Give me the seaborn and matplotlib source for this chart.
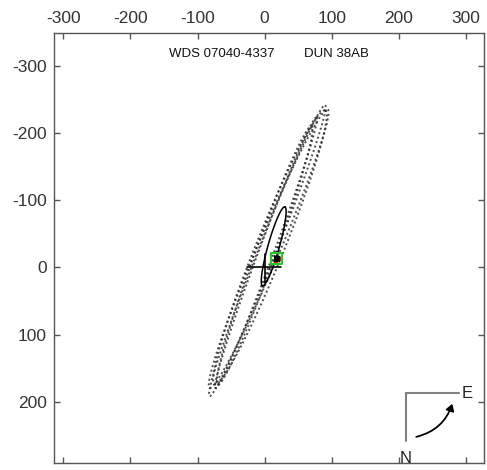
import numpy as np
import pandas as pd
import matplotlib
matplotlib.use("Agg")
import matplotlib.pyplot as plt
from matplotlib.patches import FancyArrowPatch
import seaborn as sns

# ---- data ----
title_left = "WDS 07040-4337"
title_right = "DUN 38AB"
x_ticks = [-300, -200, -100, 0, 100, 200, 300]
y_ticks = [-300, -200, -100, 0, 100, 200]

# dotted orbit solutions: center x, center y, semi-major, semi-minor, angle (deg)
dot_cx = [4, 6, 2, 8, 0]
dot_cy = [-25, -28, -22, -30, -18]
dot_a = [233, 225, 215, 220, 205]
dot_b = [13, 17, 11, 21, 15]
dot_ang = [-68.3, -67.0, -69.5, -68.0, -70.0]

# adopted orbit (solid)
orb_cx, orb_cy, orb_a, orb_b, orb_ang = 13.5, -31.5, 61, 8.5, -74.2

# measurements
meas_x = [18]
meas_y = [-13]
red_x = [22, 17]
red_y = [-12, -9]

sns.set_style("white")
plt.rcParams['font.family'] = ['Liberation Sans', 'DejaVu Sans']

fig = plt.figure(figsize=(4.87, 4.70), dpi=100)
ax = fig.add_axes([54/487, 7/470, 430/487, 430/470])


def ellipse(cx, cy, a, b, ang, n=400):
    t = np.linspace(0, 2*np.pi, n)
    th = np.deg2rad(ang)
    x = cx + a*np.cos(t)*np.cos(th) - b*np.sin(t)*np.sin(th)
    y = cy + a*np.cos(t)*np.sin(th) + b*np.sin(t)*np.cos(th)
    return x, y

for i in range(len(dot_cx)):
    ex, ey = ellipse(dot_cx[i], dot_cy[i], dot_a[i], dot_b[i], dot_ang[i])
    df = pd.DataFrame({"x": ex, "y": ey})
    sns.lineplot(data=df, x="x", y="y", sort=False, estimator=None, ax=ax,
                 color="#222222", linewidth=1.4, linestyle=(0, (1, 1.4)), alpha=0.8)

ex, ey = ellipse(orb_cx, orb_cy, orb_a, orb_b, orb_ang)
sns.lineplot(x=ex, y=ey, sort=False, estimator=None, ax=ax, color="black", linewidth=1.1)

# primary star cross
sns.lineplot(x=[-27, 25], y=[0, 0], sort=False, estimator=None, ax=ax, color="black", linewidth=1.2)
sns.lineplot(x=[0, 0], y=[-20, 22], sort=False, estimator=None, ax=ax, color="black", linewidth=1.2)

sns.scatterplot(x=red_x, y=red_y, ax=ax, color="red", s=8, marker="s", linewidth=0, zorder=4)
sns.scatterplot(x=meas_x, y=meas_y, ax=ax, marker="s", s=60, facecolor="none",
                edgecolor="#22cc22", linewidth=1.5, zorder=5)
sns.scatterplot(x=meas_x, y=meas_y, ax=ax, marker="s", s=14, color="black", linewidth=0, zorder=6)

# compass
ax.plot([210, 210, 290], [258, 187, 187], color="#808080", linewidth=1.5, solid_joinstyle="miter")
ax.text(294, 187, "E", fontsize=12, color="#222222", ha="left", va="center")
ax.text(210, 284, "N", fontsize=12, color="#222222", ha="center", va="center")
arr = FancyArrowPatch((222, 253), (281, 199), connectionstyle="arc3,rad=0.3",
                      arrowstyle="-|>,head_length=4,head_width=2.5", color="black", linewidth=1.3)
ax.add_patch(arr)

ax.text(15, -318, title_left, fontsize=9.5, color="#111111", ha="right", va="center")
ax.text(59, -318, title_right, fontsize=9.5, color="#111111", ha="left", va="center")

ax.set_xlim(-314, 327)
ax.set_ylim(291, -349)
ax.set_aspect("auto")
ax.set_xticks(x_ticks)
ax.set_yticks(y_ticks)
ax.set_xticklabels([str(v) for v in x_ticks])
ax.set_yticklabels([str(v) for v in y_ticks])
ax.xaxis.tick_top()
ax.tick_params(axis="both", direction="in", length=4, width=1, color="#555555",
               labelsize=12.5, labelcolor="#333333", top=True, bottom=True, left=True, right=True,
               labeltop=True, labelbottom=False, labelleft=True, labelright=False, pad=5)
for s in ax.spines.values():
    s.set_color("#555555")
    s.set_linewidth(1.0)
ax.set_xlabel("")
ax.set_ylabel("")

fig.savefig("out.png", dpi=100)
